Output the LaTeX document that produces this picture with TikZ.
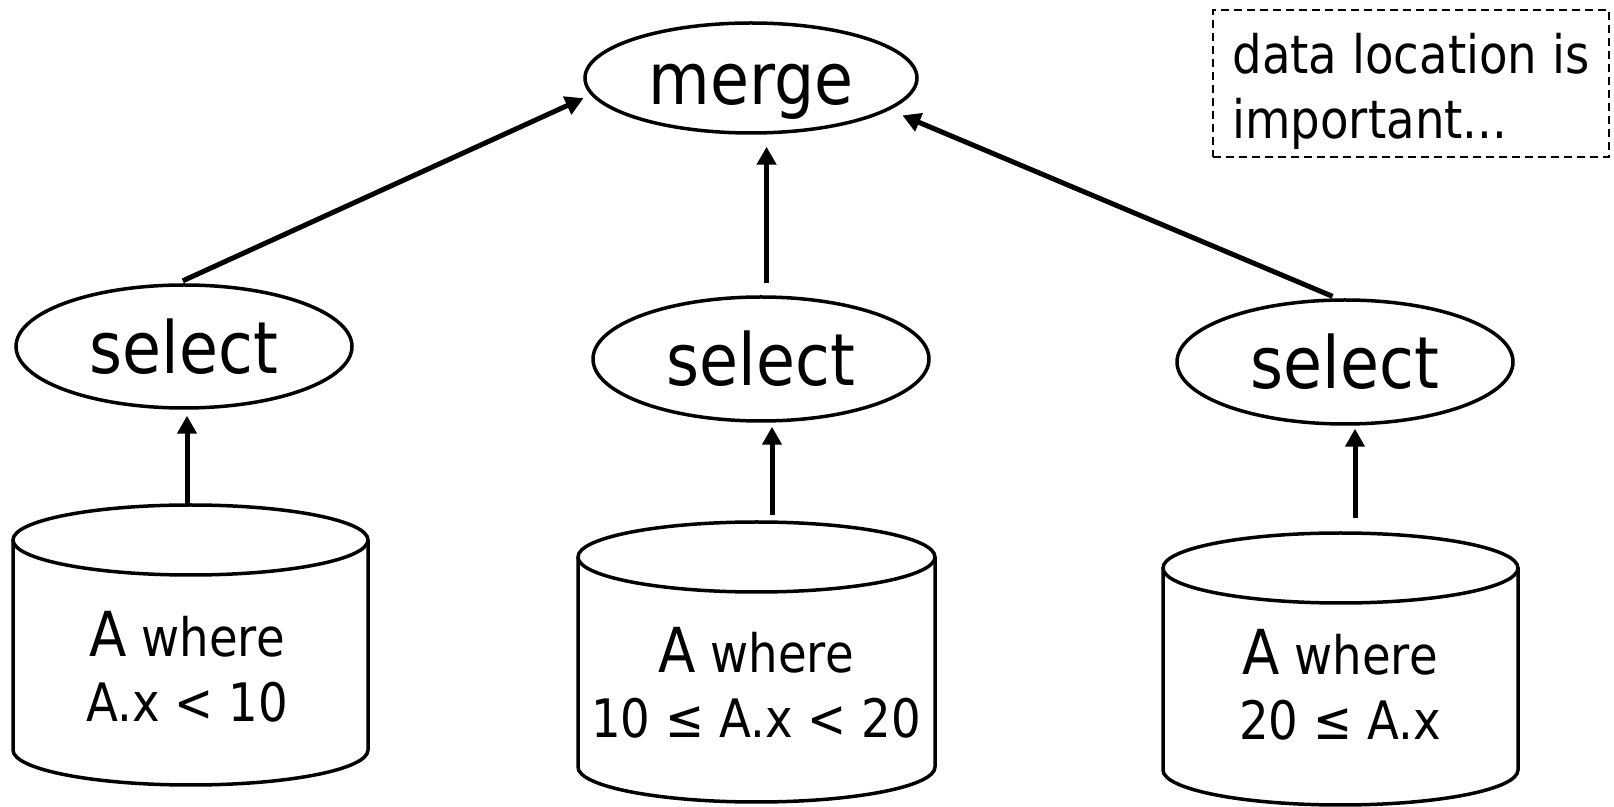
\documentclass[tikz,border=0pt]{standalone}
\usepackage{fontspec}
\setmainfont{DejaVu Sans}[FakeStretch=0.88]
\usetikzlibrary{shapes.geometric,arrows.meta}

\begin{document}
\begin{tikzpicture}[x=0.5pt,y=0.5pt,yscale=-1,xscale=1,
  opnode/.style={draw, ellipse, line width=1.75pt, inner sep=0pt, font=\fontsize{36}{36}\selectfont, text height=27pt, text depth=0pt},
  flow/.style={line width=2.5pt, -{Triangle[length=9pt,width=9.5pt]}},
  can/.style={line width=1.75pt},
  cantext/.style={align=center, inner sep=0pt, anchor=base, font=\fontsize{26.5}{32.5}\selectfont},
  notebox/.style={draw, line width=0.75pt, dash pattern=on 4pt off 2.5pt, minimum width=198pt, minimum height=73.5pt, inner sep=0pt},
  notetext/.style={align=left, inner sep=0pt, anchor=base west, font=\fontsize{26.5}{32.5}\selectfont}]
%set diagram frame: 1614 x 807
\path[use as bounding box] (0,0) rectangle (1614,807);

%Shape: Ellipse [merge]
\node (merge) [opnode, minimum width=166pt, minimum height=55pt] at (751,78) {merge};
%Shape: Ellipse [select]
\node (selA) [opnode, minimum width=168pt, minimum height=61.5pt] at (184,346.5) {select};
\node (selB) [opnode, minimum width=168pt, minimum height=62pt] at (761,359) {select};
\node (selC) [opnode, minimum width=168pt, minimum height=62pt] at (1345,362) {select};

%Shape: Can [left]
\draw [can] (13,540) -- (13,750) arc [start angle=180, end angle=0, x radius=177.5, y radius=35] -- (368,540) ;
\draw [can] (190.5,540) ellipse [x radius=177.5, y radius=35] ;
\coordinate (dbAtop) at (187,505);
%Shape: Can [middle]
\draw [can] (578,557) -- (578,767) arc [start angle=180, end angle=0, x radius=178.5, y radius=35] -- (935,557) ;
\draw [can] (756.5,557) ellipse [x radius=178.5, y radius=35] ;
\coordinate (dbBtop) at (772,522);
%Shape: Can [right]
\draw [can] (1163,568) -- (1163,770) arc [start angle=180, end angle=0, x radius=177.5, y radius=35] -- (1518,568) ;
\draw [can] (1340.5,568) ellipse [x radius=177.5, y radius=35] ;
\coordinate (dbCtop) at (1355,533);

% Text Node (anchored at last baseline)
\node (dbA) [cantext] at (187,722) {{\fontsize{31}{31}\selectfont A} where\\A.x < 10};
% Text Node
\node (dbB) [cantext] at (756,738) {{\fontsize{31}{31}\selectfont A} where\\10 ≤ A.x < 20};
% Text Node
\node (dbC) [cantext] at (1340,740) {{\fontsize{31}{31}\selectfont A} where\\20 ≤ A.x};

%Shape: Dashed box
\node (note) [notebox] at (1411,83.5) {};
% Text Node
\node (notetext) [notetext] at (1232,139) {data location is\\important...};

%Straight Lines
\draw [flow, shorten >=3pt] (dbAtop) -- (dbAtop |- selA.south);
\draw [flow, shorten <=3.5pt, shorten >=2pt] (dbBtop) -- (dbBtop |- selB.south);
\draw [flow, shorten <=7.5pt, shorten >=1.5pt] (dbCtop) -- (dbCtop |- selC.south);
\draw [flow, shorten <=3pt, shorten >=4pt] (selA.96) -- (merge.186.5);
\draw [flow, shorten <=6pt, shorten >=6pt] (selB.85) -- (selB.85 |- merge.south);
\draw [flow, shorten <=2.5pt, shorten >=7pt] (selC.97) -- (merge.-13);

\end{tikzpicture}
\end{document}
